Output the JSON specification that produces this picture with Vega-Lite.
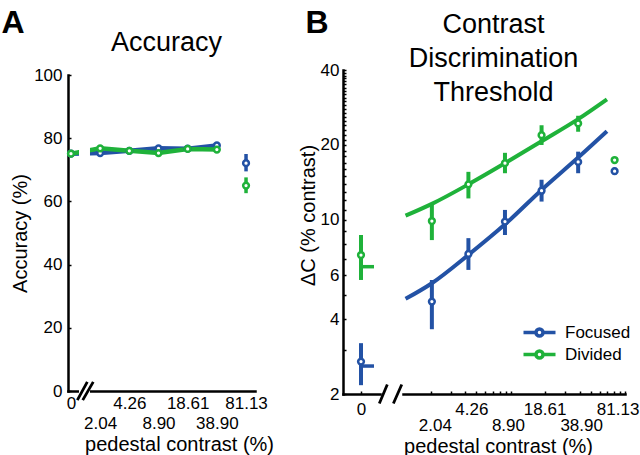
{
  "$schema": "https://vega.github.io/schema/vega-lite/v6.json",
  "background": "white",
  "padding": {"left": 1, "top": 6, "right": 4, "bottom": 2},
  "config": {
    "font": "Liberation Sans",
    "view": {"stroke": null},
    "axis": {"domainColor": "black", "domainWidth": 2.5, "domainCap": "square", "tickColor": "black", "tickWidth": 1.5, "labelColor": "black", "titleColor": "black", "labelFontSize": 17, "titleFontSize": 20, "titleFontWeight": "normal", "grid": false, "labelFlush": false, "labelOverlap": false}
  },
  "datasets": {
    "acc": [
      {"series": "Focused", "contrast": "0", "acc": 75.1, "lo": 74.5, "hi": 75.7},
      {"series": "Focused", "contrast": "2.04", "acc": 75.3, "lo": 74.6, "hi": 76.0},
      {"series": "Focused", "contrast": "4.26", "acc": 76.0, "lo": 75.4, "hi": 76.6},
      {"series": "Focused", "contrast": "8.90", "acc": 76.8, "lo": 76.1, "hi": 77.5},
      {"series": "Focused", "contrast": "18.61", "acc": 76.7, "lo": 76.1, "hi": 77.3},
      {"series": "Focused", "contrast": "38.90", "acc": 77.7, "lo": 77.0, "hi": 78.4},
      {"series": "Focused", "contrast": "81.13", "acc": 72.1, "lo": 69.5, "hi": 75.0},
      {"series": "Divided", "contrast": "0", "acc": 75.1, "lo": 74.5, "hi": 75.7},
      {"series": "Divided", "contrast": "2.04", "acc": 76.8, "lo": 76.2, "hi": 77.4},
      {"series": "Divided", "contrast": "4.26", "acc": 76.0, "lo": 75.4, "hi": 76.6},
      {"series": "Divided", "contrast": "8.90", "acc": 75.3, "lo": 74.7, "hi": 75.9},
      {"series": "Divided", "contrast": "18.61", "acc": 76.6, "lo": 76.0, "hi": 77.2},
      {"series": "Divided", "contrast": "38.90", "acc": 76.4, "lo": 75.8, "hi": 77.0},
      {"series": "Divided", "contrast": "81.13", "acc": 65.0, "lo": 62.6, "hi": 67.6}
    ],
    "thr": [
      {"series": "Focused", "contrast": 2.04, "thr": 4.70, "lo": 3.64, "hi": 5.74},
      {"series": "Focused", "contrast": 4.26, "thr": 7.30, "lo": 6.30, "hi": 8.45},
      {"series": "Focused", "contrast": 8.90, "thr": 9.85, "lo": 8.70, "hi": 10.97},
      {"series": "Focused", "contrast": 18.61, "thr": 13.1, "lo": 11.85, "hi": 14.5},
      {"series": "Focused", "contrast": 38.90, "thr": 17.1, "lo": 15.4, "hi": 18.8},
      {"series": "Focused", "contrast": 81.13, "thr": 15.7, "lo": 15.2, "hi": 16.2},
      {"series": "Divided", "contrast": 2.04, "thr": 9.9, "lo": 8.3, "hi": 11.5},
      {"series": "Divided", "contrast": 4.26, "thr": 13.9, "lo": 12.2, "hi": 15.6},
      {"series": "Divided", "contrast": 8.90, "thr": 16.9, "lo": 15.4, "hi": 18.6},
      {"series": "Divided", "contrast": 18.61, "thr": 21.9, "lo": 20.0, "hi": 24.0},
      {"series": "Divided", "contrast": 38.90, "thr": 24.4, "lo": 22.6, "hi": 26.2},
      {"series": "Divided", "contrast": 81.13, "thr": 17.4, "lo": 17.0, "hi": 17.9}
    ],
    "thr0": [
      {"series": "Focused", "contrast": 0, "thr": 2.70, "lo": 2.17, "hi": 3.20, "fit0": 2.59},
      {"series": "Divided", "contrast": 0, "thr": 7.23, "lo": 5.74, "hi": 8.70, "fit0": 6.49}
    ],
    "fit": [
      {"series": "Focused", "contrast": 1.2, "fit": 4.82},
      {"series": "Focused", "contrast": 2.04, "fit": 5.57},
      {"series": "Focused", "contrast": 4.26, "fit": 7.24},
      {"series": "Focused", "contrast": 8.90, "fit": 9.6},
      {"series": "Focused", "contrast": 18.61, "fit": 13.2},
      {"series": "Focused", "contrast": 38.90, "fit": 17.8},
      {"series": "Focused", "contrast": 69.5, "fit": 22.7},
      {"series": "Divided", "contrast": 1.2, "fit": 10.4},
      {"series": "Divided", "contrast": 2.04, "fit": 11.6},
      {"series": "Divided", "contrast": 4.26, "fit": 13.9},
      {"series": "Divided", "contrast": 8.90, "fit": 16.9},
      {"series": "Divided", "contrast": 18.61, "fit": 20.7},
      {"series": "Divided", "contrast": 38.90, "fit": 25.4},
      {"series": "Divided", "contrast": 69.5, "fit": 30.5}
    ],
    "one": [{}]
  },
  "spacing": 23,
  "bounds": "flush",
  "resolve": {"scale": {"color": "independent"}, "legend": {"color": "independent"}},
  "hconcat": [
    {
      "width": 252,
      "height": 321,
      "resolve": {"axis": {"x": "independent"}},
      "layer": [
        {
          "data": {"name": "acc"},
          "transform": [{"filter": "datum.contrast != '81.13'"}],
          "mark": {"type": "line", "strokeWidth": 4.5},
          "encoding": {
            "x": {"field": "contrast", "type": "ordinal",
              "scale": {"type": "point", "domain": ["0", "2.04", "4.26", "8.90", "18.61", "38.90", "81.13"], "range": [0, 187], "padding": 0.205, "align": 0.25},
              "axis": {"orient": "bottom", "title": "pedestal contrast (%)", "labelAngle": 0, "ticks": false,
                "labelPadding": {"condition": {"test": "indexof(['2.04','8.90','38.90'], datum.value) >= 0", "value": 24}, "value": 4},
                "titleX": 111, "titlePadding": 3}},
            "y": {"field": "acc", "type": "quantitative",
              "scale": {"domain": [0, 100], "range": [321, 5], "nice": false},
              "axis": {"orient": "left", "values": [0, 10, 20, 30, 40, 50, 60, 70, 80, 90, 100], "labelExpr": "datum.value % 20 == 0 ? '' + datum.value : ''", "title": "Accuracy (%)", "tickSize": -3, "labelPadding": 9, "titlePadding": 3}},
            "color": {"field": "series", "type": "nominal", "scale": {"domain": ["Focused", "Divided"], "range": ["#2352a5", "#1fb23a"]}, "legend": null}
          }
        },
        {
          "data": {"name": "one"},
          "mark": {"type": "rule", "color": "white", "strokeWidth": 11, "xOffset": 13.5, "yOffset": 3},
          "encoding": {
            "x": {"datum": "0", "type": "ordinal",
              "axis": {"orient": "top", "title": "A", "labels": false, "ticks": false, "domain": false, "titleX": -67, "titleY": -38, "titleFontSize": 32, "titleFontWeight": "bold", "titleAlign": "left", "titleBaseline": "alphabetic", "titleAngle": 0}},
            "y": {"datum": 0, "type": "quantitative"},
            "y2": {"datum": 100}
          }
        },
        {
          "data": {"name": "acc"},
          "mark": {"type": "rule", "strokeWidth": 3.5},
          "encoding": {
            "x": {"field": "contrast", "type": "ordinal", "axis": null},
            "y": {"field": "lo", "type": "quantitative"},
            "y2": {"field": "hi"},
            "color": {"field": "series", "type": "nominal", "legend": null}
          }
        },
        {
          "data": {"name": "acc"},
          "mark": {"type": "point", "shape": "circle", "size": 33, "strokeWidth": 2.5, "fill": "white", "filled": false, "opacity": 1},
          "encoding": {
            "x": {"field": "contrast", "type": "ordinal", "axis": null},
            "y": {"field": "acc", "type": "quantitative"},
            "color": {"field": "series", "type": "nominal", "legend": null}
          }
        },
        {
          "data": {"name": "one"},
          "mark": {"type": "point", "shape": "M-0.87,1L0.22,-1M-0.28,1L0.87,-1", "size": 335, "strokeWidth": 2.8, "color": "black", "filled": false, "opacity": 1, "xOffset": 14.3},
          "encoding": {
            "x": {"datum": "0", "type": "ordinal",
              "axis": {"orient": "top", "title": "Accuracy", "labels": false, "ticks": false, "domain": false, "titleX": 98, "titleY": -20, "titleFontSize": 27, "titleFontWeight": "normal", "titleAlign": "center", "titleBaseline": "alphabetic", "titleAngle": 0}},
            "y": {"datum": 0, "type": "quantitative"}
          }
        }
      ]
    },
    {
      "width": 37,
      "height": 324,
      "data": {"name": "thr0"},
      "resolve": {"axis": {"x": "independent"}},
      "layer": [
        {
          "mark": {"type": "rule", "strokeWidth": 4},
          "encoding": {
            "x": {"field": "contrast", "type": "quantitative",
              "scale": {"domain": [-0.9, 0.95], "nice": false, "zero": false},
              "axis": {"orient": "bottom", "values": [0], "title": null, "tickSize": -3, "labelPadding": 10}},
            "y": {"field": "lo", "type": "quantitative",
              "scale": {"type": "log", "domain": [2, 40], "nice": false},
              "axis": {"orient": "left", "values": [2, 3, 4, 5, 6, 7, 8, 9, 10, 11, 12, 13, 14, 15, 16, 17, 18, 19, 20, 21, 22, 23, 24, 25, 26, 27, 28, 29, 30, 31, 32, 33, 34, 35, 36, 37, 38, 39, 40],
                "labelExpr": "indexof([2, 4, 6, 10, 20, 40], datum.value) >= 0 ? '' + datum.value : ''",
                "title": "ΔC (% contrast)", "tickSize": -3, "labelPadding": 7, "titlePadding": 2, "titleY": 145}},
            "y2": {"field": "hi"},
            "color": {"field": "series", "type": "nominal", "scale": {"domain": ["Focused", "Divided"], "range": ["#2352a5", "#1fb23a"]}, "legend": null}
          }
        },
        {
          "mark": {"type": "rule", "strokeWidth": 3.5},
          "encoding": {
            "x": {"datum": 0, "type": "quantitative", "axis": null},
            "x2": {"datum": 0.65},
            "y": {"field": "fit0", "type": "quantitative"},
            "color": {"field": "series", "type": "nominal", "legend": null}
          }
        },
        {
          "mark": {"type": "point", "shape": "circle", "size": 33, "strokeWidth": 2.5, "fill": "white", "filled": false, "opacity": 1},
          "encoding": {
            "x": {"field": "contrast", "type": "quantitative",
              "axis": {"orient": "top", "title": "B", "labels": false, "ticks": false, "domain": false, "titleX": -38, "titleY": -38, "titleFontSize": 32, "titleFontWeight": "bold", "titleAlign": "left", "titleBaseline": "alphabetic", "titleAngle": 0}},
            "y": {"field": "thr", "type": "quantitative"},
            "color": {"field": "series", "type": "nominal", "legend": null}
          }
        }
      ]
    },
    {
      "width": 222,
      "height": 324,
      "resolve": {"axis": {"x": "independent"}},
      "layer": [
        {
          "data": {"name": "fit"},
          "mark": {"type": "line", "strokeWidth": 4, "interpolate": "monotone"},
          "encoding": {
            "x": {"field": "contrast", "type": "quantitative",
              "scale": {"type": "log", "domain": [1.14, 100], "nice": false},
              "axis": {"orient": "bottom", "values": [2, 3, 4, 5, 6, 7, 8, 9, 10, 20, 30, 40, 50, 60, 70, 80, 90, 100], "labels": false, "domain": false, "tickSize": -3, "title": null}},
            "y": {"field": "fit", "type": "quantitative",
              "scale": {"type": "log", "domain": [2, 40], "nice": false}, "axis": null},
            "color": {"field": "series", "type": "nominal", "scale": {"domain": ["Focused", "Divided"], "range": ["#2352a5", "#1fb23a"]}}
          }
        },
        {
          "data": {"name": "thr"},
          "mark": {"type": "rule", "strokeWidth": 4},
          "encoding": {
            "x": {"field": "contrast", "type": "quantitative",
              "axis": {"orient": "top", "title": ["Contrast", "Discrimination", "Threshold"], "labels": false, "ticks": false, "domain": false, "titleX": 90, "titleY": -38, "titleFontSize": 27, "titleLineHeight": 34, "titleFontWeight": "normal", "titleAlign": "center", "titleBaseline": "alphabetic", "titleAngle": 0}},
            "y": {"field": "lo", "type": "quantitative", "axis": null},
            "y2": {"field": "hi"},
            "color": {"field": "series", "type": "nominal"}
          }
        },
        {
          "data": {"name": "thr"},
          "mark": {"type": "point", "shape": "circle", "size": 33, "strokeWidth": 2.5, "fill": "white", "filled": false, "opacity": 1},
          "encoding": {
            "x": {"field": "contrast", "type": "quantitative",
              "axis": {"orient": "bottom", "values": [2.04, 4.26, 8.9, 18.61, 38.9, 81.13], "labelExpr": "format(datum.value, '.2f')", "ticks": false, "labelOffset": 3,
                "labelPadding": {"condition": {"test": "datum.value < 3 || (datum.value > 8 && datum.value < 9) || (datum.value > 38 && datum.value < 40)", "value": 23}, "value": 7},
                "title": "pedestal contrast (%)", "titleX": 95, "titlePadding": 3}},
            "y": {"field": "thr", "type": "quantitative", "axis": null},
            "color": {"field": "series", "type": "nominal",
              "legend": {"orient": "none", "legendX": 128, "legendY": 254, "title": null,
                "symbolType": "M-3.2,0L-0.7,0M0.7,0L3.2,0M0.7,0A0.7,0.7,0,1,1,-0.7,0A0.7,0.7,0,1,1,0.7,0",
                "symbolSize": 100, "symbolStrokeWidth": 3.5, "symbolFillColor": "white", "labelFontSize": 17, "labelColor": "black", "labelOffset": 17, "rowPadding": 1, "padding": 0}}
          }
        },
        {
          "data": {"name": "one"},
          "mark": {"type": "point", "shape": "M-1.17,1L-0.33,-1M0.31,1L1.19,-1", "size": 361, "strokeWidth": 2.8, "color": "black", "filled": false, "opacity": 1},
          "encoding": {
            "x": {"datum": 0.885, "type": "quantitative", "axis": null},
            "y": {"datum": 2, "type": "quantitative", "axis": null}
          }
        }
      ]
    }
  ]
}
